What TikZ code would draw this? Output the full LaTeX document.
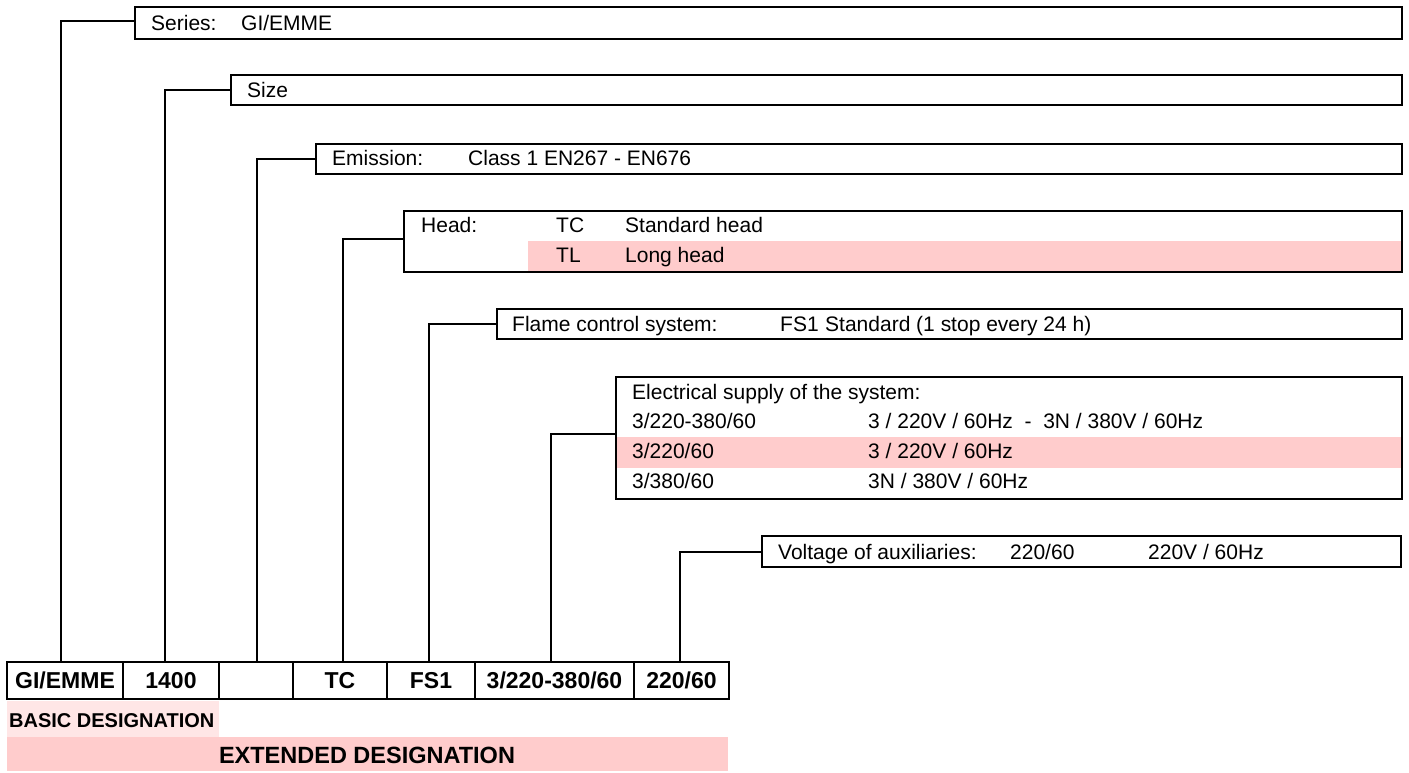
\documentclass[tikz,border=0pt]{standalone}
\usepackage{fontspec}
\setmainfont{Liberation Sans}
\definecolor{pinkrow}{HTML}{FFCCCC}
\definecolor{pinklight}{HTML}{FFE6E6}
\tikzset{
  box/.style={draw, line width=2pt, anchor=north west, inner sep=0pt, outer sep=0pt},
  cell/.style={draw, line width=2pt, anchor=north west, inner sep=0pt, outer sep=0pt,
    minimum height=37pt, text height=16.5pt, text depth=0pt,
    font=\fontsize{23}{27}\selectfont\bfseries},
  txt/.style={anchor=base west, inner sep=0pt, font=\fontsize{21}{25}\selectfont},
  link/.style={line width=2pt},
  band/.style={draw=none, anchor=north west, inner sep=0pt, outer sep=0pt}
}
\begin{document}
\begin{tikzpicture}[x=1pt, y=-1pt]
\useasboundingbox (0,0) rectangle (1409,773);
% bands
\node (hb) [band, fill=pinkrow, minimum width=874pt, minimum height=30pt] at (528,241) {};
\node (eb) [band, fill=pinkrow, minimum width=786pt, minimum height=31pt] at (616,437) {};
\node (bb) [band, fill=pinklight, minimum width=212pt, minimum height=36pt] at (7,701) {};
\node (xb) [band, fill=pinkrow, minimum width=721pt, minimum height=34pt] at (7,737) {};
% boxes
\node (bS) [box, minimum width=1267pt, minimum height=32pt] at (135,7) {};
\node (bZ) [box, minimum width=1171pt, minimum height=30pt] at (231,75) {};
\node (bE) [box, minimum width=1086pt, minimum height=30pt] at (316,144) {};
\node (bH) [box, minimum width=998pt, minimum height=61pt] at (404,211) {};
\node (bF) [box, minimum width=905pt, minimum height=30pt] at (497,309) {};
\node (bL) [box, minimum width=786pt, minimum height=122pt] at (616,377) {};
\node (bV) [box, minimum width=639pt, minimum height=31pt] at (762,536) {};
% bottom cells
\node (c1) [cell, minimum width=116pt] at (7,662) {GI/EMME};
\node (c2) [cell, minimum width=96pt] at (123,662) {1400};
\node (c3) [cell, minimum width=74pt] at (219,662) {};
\node (c4) [cell, minimum width=94pt] at (293,662) {TC};
\node (c5) [cell, minimum width=88pt] at (387,662) {FS1};
\node (c6) [cell, minimum width=159pt] at (475,662) {3/220-380/60};
\node (c7) [cell, minimum width=95pt] at (634,662) {220/60};
% connectors
\draw[link] ([yshift=2pt]bS.west) -| ([xshift=-4pt]c1.north);
\draw[link] (bZ.west) -| ([xshift=-6pt]c2.north);
\draw[link] (bE.west) -| ([xshift=1pt]c3.north);
\draw[link] ([yshift=2.5pt]bH.west) -| ([xshift=3pt]c4.north);
\draw[link] (bF.west) -| ([xshift=-2pt]c5.north);
\draw[link] ([yshift=4pt]bL.west) -| ([xshift=-3.5pt]c6.north);
\draw[link] (bV.west) -| ([xshift=-1.5pt]c7.north);
% texts
\node (t1a) [txt] at (151,30.5) {Series:};
\node (t1b) [txt] at (241,30.5) {GI/EMME};
\node (t2a) [txt] at (247,97.5) {Size};
\node (t3a) [txt] at (332,166) {Emission:};
\node (t3b) [txt] at (468,166) {Class 1 EN267 - EN676};
\node (t4a) [txt] at (421,233) {Head:};
\node (t4b) [txt] at (556,233) {TC};
\node (t4c) [txt] at (625,233) {Standard head};
\node (t4d) [txt] at (556,262) {TL};
\node (t4e) [txt] at (625,262) {Long head};
\node (t5a) [txt] at (512,331) {Flame control system:};
\node (t5b) [txt] at (780,331) {FS1};
\node (t5c) [txt] at (825,331) {Standard (1 stop every 24 h)};
\node (t6a) [txt] at (632,399) {Electrical supply of the system:};
\node (t6b) [txt] at (632,428) {3/220-380/60};
\node (t6c) [txt] at (868,428) {3 / 220V / 60Hz \ - \ 3N / 380V / 60Hz};
\node (t6d) [txt] at (632,458) {3/220/60};
\node (t6e) [txt] at (868,458) {3 / 220V / 60Hz};
\node (t6f) [txt] at (632,488) {3/380/60};
\node (t6g) [txt] at (868,488) {3N / 380V / 60Hz};
\node (t7a) [txt] at (778,559) {Voltage of auxiliaries:};
\node (t7b) [txt] at (1010,559) {220/60};
\node (t7c) [txt] at (1148,559) {220V / 60Hz};
\node (tb) [anchor=base west, inner sep=0pt, font=\fontsize{20}{24}\selectfont\bfseries] at (9,727) {BASIC DESIGNATION};
\node (tx) [anchor=base, inner sep=0pt, font=\fontsize{23.5}{28}\selectfont\bfseries] at (367,763) {EXTENDED DESIGNATION};
\end{tikzpicture}
\end{document}
